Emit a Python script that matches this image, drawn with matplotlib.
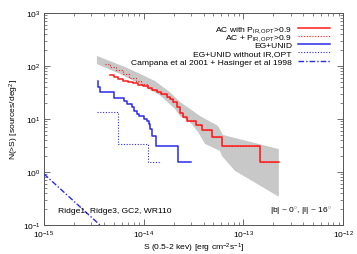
import numpy as np
import matplotlib
matplotlib.use("Agg")
import matplotlib.pyplot as plt
from matplotlib.lines import Line2D
from matplotlib.ticker import LogLocator, NullFormatter

plt.rcParams["font.family"] = ["Liberation Sans", "DejaVu Sans"]
plt.rcParams["mathtext.fontset"] = "custom"
plt.rcParams["mathtext.rm"] = "Liberation Sans"
plt.rcParams["mathtext.it"] = "Liberation Sans:italic"

# logN-logS data (flux in erg cm^-2 s^-1, N in sources/deg^2)
# grey confidence band
band_up_S = [3.40e-15, 4.59e-15, 6.49e-15, 9.2e-15, 1.30e-14, 1.84e-14, 2.31e-14,
             3.12e-14, 3.67e-14, 5.56e-14, 6.24e-14, 2.27e-13]
band_up_N = [155, 124, 96, 71, 52, 32, 21, 14.2, 11.4, 7.4, 5.0, 2.7]
band_lo_S = [3.40e-15, 5.78e-15, 9.2e-15, 1.46e-14, 2.06e-14, 2.31e-14, 2.91e-14,
             3.51e-14, 4.12e-14, 5.82e-14, 6.1e-14, 8.24e-14, 2.27e-13]
band_lo_N = [109, 71, 46, 28, 15.5, 11.4, 8.8, 5.7, 3.4, 2.5, 2.0, 1.05, 0.34]

# AC with P_IR,OPT > 0.9
ac_S = [4.6e-15, 5.0e-15, 5.5e-15, 6.2e-15, 7.0e-15, 7.8e-15, 8.8e-15, 9.8e-15,
        1.1e-14, 1.2e-14, 1.36e-14, 1.5e-14, 1.71e-14, 1.85e-14, 1.97e-14, 2.15e-14,
        2.31e-14, 2.48e-14, 2.72e-14, 3.35e-14, 3.85e-14, 4.84e-14, 6.1e-14,
        1.47e-13, 2.27e-13]
ac_N = [67, 62, 57, 52, 50, 47, 44.5, 42, 38.5, 35.5, 32, 29.5, 26, 23.5, 20.5,
        16.5, 13, 11, 9.3, 7.75, 6.2, 4.65, 3.1, 1.55, 1.55]

# AC + P_IR,OPT > 0.9
acp_S = [4.1e-15, 4.6e-15, 5.3e-15, 6.2e-15, 7.2e-15, 8.3e-15, 9.5e-15,
         1.1e-14, 1.2e-14, 1.36e-14, 1.5e-14, 1.71e-14, 1.85e-14, 1.97e-14, 2.15e-14,
         2.31e-14, 2.48e-14, 2.72e-14, 3.35e-14, 3.85e-14, 4.84e-14, 6.1e-14,
         1.47e-13, 2.27e-13]
acp_N = [108, 96, 84, 72, 60, 51, 45, 38.5, 35.5, 32, 29.5, 26, 23.5, 20.5,
         16.5, 13, 11, 9.3, 7.75, 6.2, 4.65, 3.1, 1.55, 1.55]

# EG+UNID
eg_S = [3.48e-15, 3.48e-15, 3.64e-15, 5.04e-15, 6.35e-15, 6.8e-15, 7.63e-15, 8.0e-15,
        8.57e-15, 8.97e-15, 1.01e-14, 1.08e-14, 1.13e-14, 1.16e-14, 1.21e-14,
        1.33e-14, 2.21e-14, 2.98e-14]
eg_N = [52, 40, 32, 25, 22, 19.2, 16.8, 14.2, 12.4, 11.4, 10.2, 9.2, 8.0, 6.5,
        4.8, 3.1, 1.55, 1.55]

# EG+UNID without IR,OPT
egn_S = [3.40e-15, 5.52e-15, 1.10e-14, 1.49e-14]
egn_N = [13.6, 3.4, 1.55, 1.55]

# Campana et al 2001 + Hasinger et al 1998
ch_S = [1.0e-15, 4.0e-15]
ch_N = [0.92, 0.085]

red = "#ff1a1a"
blue = "#2a2ae8"
fs = 6.1
dotted = (0, (1, 1.5))
dashdot = (0, (4, 1.5, 1, 1.5))

fig = plt.figure(figsize=(3.57, 2.55), dpi=100)
ax = fig.add_axes([0.123, 0.114, 0.838, 0.831])

ax.fill(band_up_S + band_lo_S[::-1], band_up_N + band_lo_N[::-1],
        color="#c8c8c8", lw=0, zorder=1)

series = [
    (ac_S, ac_N, red, 1.1, "-", r"AC with P$_{\rm IR,OPT}$>0.9"),
    (acp_S, acp_N, red, 0.8, dotted, r"AC + P$_{\rm IR,OPT}$>0.9"),
    (eg_S, eg_N, blue, 1.1, "-", "EG+UNID"),
    (egn_S, egn_N, blue, 0.8, dotted, "EG+UNID without IR,OPT"),
]
for S, N, c, lw, ls, lab in series:
    ax.plot(S, N, drawstyle="steps-post", color=c, lw=lw, ls=ls, zorder=3)
ax.plot(ch_S, ch_N, color=blue, lw=1.0, ls=dashdot, zorder=3)

# legend drawn by hand so the rows sit as tightly as in the original
leg_rows = [(c, lw, ls, lab) for _, _, c, lw, ls, lab in series]
leg_rows.append((blue, 1.0, dashdot, "Campana et al 2001 + Hasinger et al 1998"))
row_y = [0.928, 0.892, 0.853, 0.814, 0.775]
for (c, lw, ls, lab), y in zip(leg_rows, row_y):
    ax.add_line(Line2D([0.849, 0.957], [y, y], transform=ax.transAxes,
                       color=c, lw=lw, ls=ls))
    ax.text(0.829, y - 0.0135, lab, transform=ax.transAxes, fontsize=fs,
            ha="right", va="baseline")

ax.set_xscale("log")
ax.set_yscale("log")
ax.set_xlim(1e-15, 1e-12)
ax.set_ylim(1e-1, 1e3)

for axis in (ax.xaxis, ax.yaxis):
    axis.set_major_locator(LogLocator(base=10, numticks=10))
    axis.set_minor_locator(LogLocator(base=10, subs=np.arange(2, 10), numticks=10))
    axis.set_minor_formatter(NullFormatter())

ax.tick_params(which="both", direction="in", top=True, right=True,
               labelsize=6.0, color="#555555", pad=2.5)
ax.tick_params(which="major", length=4, width=0.6)
ax.tick_params(which="minor", length=2, width=0.5)
for sp in ax.spines.values():
    sp.set_color("#555555")
    sp.set_linewidth(0.7)

ax.set_xlabel(r"S (0.5-2 kev) [erg cm$^{-2}$s$^{-1}$]", fontsize=fs, labelpad=1)
ax.set_ylabel(r"N(>S) [sources/deg$^2$]", fontsize=fs, labelpad=1)

ax.text(0.047, 0.07, "Ridge1, Ridge3, GC2, WR110", transform=ax.transAxes,
        fontsize=fs, ha="left", va="center")
ax.text(0.963, 0.07, r"|b| ~ 0$^{\circ}$, |l| ~ 16$^{\circ}$", transform=ax.transAxes,
        fontsize=fs, ha="right", va="center")

fig.savefig("out.png", dpi=100)
